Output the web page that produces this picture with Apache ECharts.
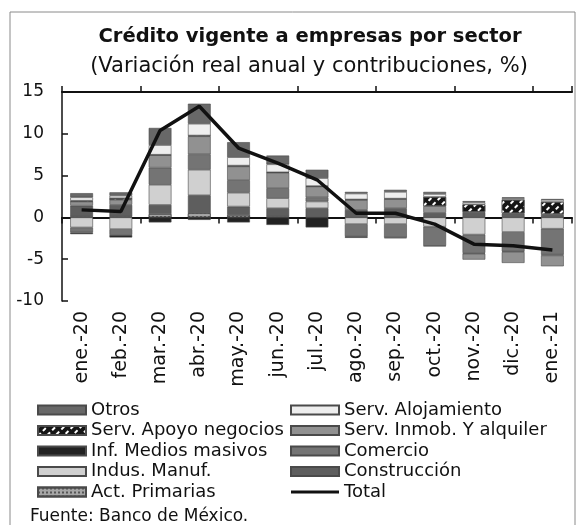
<!DOCTYPE html>
<html>
<head>
<meta charset="utf-8">
<script src="https://cdn.jsdelivr.net/npm/echarts@6/dist/echarts.min.js"></script>
<style>
  html, body { margin: 0; padding: 0; background: #fff; }
  #chart { width: 576px; height: 525px; }
</style>
</head>
<body>
<div id="chart"></div>
<script>
// datos (contribuciones, puntos porcentuales)
var categories = ['ene.-20', 'feb.-20', 'mar.-20', 'abr.-20', 'may.-20', 'jun.-20', 'jul.-20',
                  'ago.-20', 'sep.-20', 'oct.-20', 'nov.-20', 'dic.-20', 'ene.-21'];
var actPrimarias = [0.1, 0.1, 0.4, 0.5, 0.3, 0.1, 0.05, 0.05, 0.05, 0.05, 0.05, 0.05, 0.05];
var construccion = [1.3, 1.4, 1.1, 2.15, 1.0, 1.0, 1.05, 0.85, 1.05, 0.5, 0.6, 0.45, 0.35];
var indusManuf = [-1.2, -1.4, 2.4, 3.05, 1.65, 1.2, 0.8, -0.8, -0.8, -1.1, -2.05, -1.75, -1.35];
var comercio = [-0.6, -0.7, 2.05, 1.85, 1.5, 1.2, 0.5, -1.45, -1.6, -2.3, -2.2, -2.3, -3.1];
var infMedios = [-0.2, -0.3, -0.6, -0.3, -0.6, -0.9, -1.2, -0.2, -0.1, -0.05, -0.1, -0.1, -0.1];
var servInmob = [0.5, 0.6, 1.5, 2.15, 1.65, 1.85, 1.3, 1.2, 1.1, 0.8, -0.7, -1.3, -1.3];
var servApoyo = [0.1, 0.2, 0.05, 0.1, 0.1, 0.05, 0.05, 0.05, 0.05, 1.1, 0.9, 1.6, 1.45];
var servAloj = [0.4, 0.3, 1.15, 1.4, 1.0, 0.95, 0.95, 0.7, 0.8, 0.35, 0.25, 0.2, 0.25];
var otros = [0.5, 0.4, 2.05, 2.4, 1.8, 1.05, 1.0, 0.2, 0.25, 0.25, 0.15, 0.1, 0.1];
var total = [0.9, 0.7, 10.4, 13.3, 8.3, 6.5, 4.5, 0.5, 0.5, -0.8, -3.2, -3.4, -3.9];
var yTicks = { min: -10, max: 15, interval: 5 };

var font = '"DejaVu Sans", "Noto Sans", sans-serif';
var chart = echarts.init(document.getElementById('chart'));

function barSerie(name, data, color, decal) {
  var s = {
    name: name,
    type: 'bar',
    stack: 'contrib',
    barWidth: '58%',
    data: data,
    itemStyle: { color: color, borderColor: '#4a4a4a', borderWidth: 0.6 }
  };
  if (decal) s.itemStyle.decal = decal;
  return s;
}

var legendText = { fontFamily: font, fontSize: 18, lineHeight: 18, color: '#111' };

var option = {
  backgroundColor: '#fff',
  animation: false,
  title: [
    {
      text: 'Crédito vigente a empresas por sector',
      left: 305, top: 22, textAlign: 'center',
      textStyle: { fontFamily: font, fontSize: 19.5, fontWeight: 'bold', color: '#111' }
    },
    {
      text: '(Variación real anual y contribuciones, %)',
      left: 304, top: 51, textAlign: 'center',
      textStyle: { fontFamily: font, fontSize: 21, fontWeight: 'normal', color: '#111' }
    }
  ],
  grid: { left: 62, right: 4, top: 92, bottom: 224, outerBoundsMode: 'none' },
  legend: [
    {
      orient: 'vertical', left: 32, top: 396, itemWidth: 48, itemHeight: 9, itemGap: 2.5,
      icon: 'rect', textStyle: legendText,
      data: ['Otros', 'Serv. Apoyo negocios', 'Inf. Medios masivos', 'Indus. Manuf.', 'Act. Primarias']
    },
    {
      orient: 'vertical', left: 285, top: 396, itemWidth: 48, itemHeight: 9, itemGap: 2.5,
      icon: 'rect', textStyle: legendText,
      data: ['Serv. Alojamiento', 'Serv. Inmob. Y alquiler', 'Comercio', 'Construcción',
             { name: 'Total', icon: 'path://M0,0 L48,0 L48,3 L0,3 Z' }]
    }
  ],
  xAxis: [
    {
      // etiquetas al pie del área de gráfica
      type: 'category', data: categories, position: 'bottom',
      axisLine: { show: false, onZero: false },
      axisTick: { show: false },
      axisLabel: { rotate: 90, margin: 10, fontFamily: font, fontSize: 19, color: '#111' }
    },
    {
      type: 'category', data: categories, position: 'bottom',
      axisLine: { onZero: true, lineStyle: { color: '#111', width: 2 } },
      axisTick: { show: true, length: 6, lineStyle: { color: '#111', width: 1.5 } },
      axisLabel: { show: false }
    },
    {
      type: 'category', data: categories, position: 'top',
      axisLine: { onZero: true, lineStyle: { color: '#111', width: 2 } },
      axisTick: { show: true, length: 6, lineStyle: { color: '#111', width: 1.5 } },
      axisLabel: { show: false }
    }
  ],
  yAxis: {
    type: 'value', min: yTicks.min, max: yTicks.max, interval: yTicks.interval,
    axisLine: { show: true, lineStyle: { color: '#111', width: 1.5 } },
    axisTick: { show: true, inside: true, length: 6, lineStyle: { color: '#111', width: 1.5 } },
    splitLine: { show: false },
    axisLabel: { margin: 18, fontFamily: font, fontSize: 17, color: '#111' }
  },
  series: [
    barSerie('Act. Primarias', actPrimarias, '#a6a6a6',
      { symbol: 'rect', color: '#555', dashArrayX: [2, 2], dashArrayY: [2, 2], symbolSize: 1 }),
    barSerie('Construcción', construccion, '#5e5e5e'),
    barSerie('Indus. Manuf.', indusManuf, '#d0d0d0'),
    barSerie('Comercio', comercio, '#747474'),
    barSerie('Inf. Medios masivos', infMedios, '#222222'),
    barSerie('Serv. Inmob. Y alquiler', servInmob, '#919191'),
    barSerie('Serv. Apoyo negocios', servApoyo, '#151515',
      { symbol: 'rect', color: '#ffffff', symbolSize: 1, dashArrayX: [[4, 3]], dashArrayY: [2, 4], rotation: -Math.PI / 4 }),
    barSerie('Serv. Alojamiento', servAloj, '#eeeeee'),
    barSerie('Otros', otros, '#686868'),
    {
      name: 'Total', type: 'line', data: total, symbol: 'none',
      lineStyle: { color: '#111', width: 3.5 }, itemStyle: { color: '#111' }, z: 5
    }
  ],
  graphic: [
    {
      type: 'rect', silent: true, z: -1,
      shape: { x: 10, y: 12, width: 565, height: 530 },
      style: { fill: 'none', stroke: '#8a8a8a', lineWidth: 1 }
    },
    {
      type: 'text', left: 30, top: 508,
      style: { text: 'Fuente: Banco de México.', fontFamily: font, fontSize: 17, fill: '#111' }
    }
  ]
};

chart.setOption(option);
</script>
</body>
</html>
